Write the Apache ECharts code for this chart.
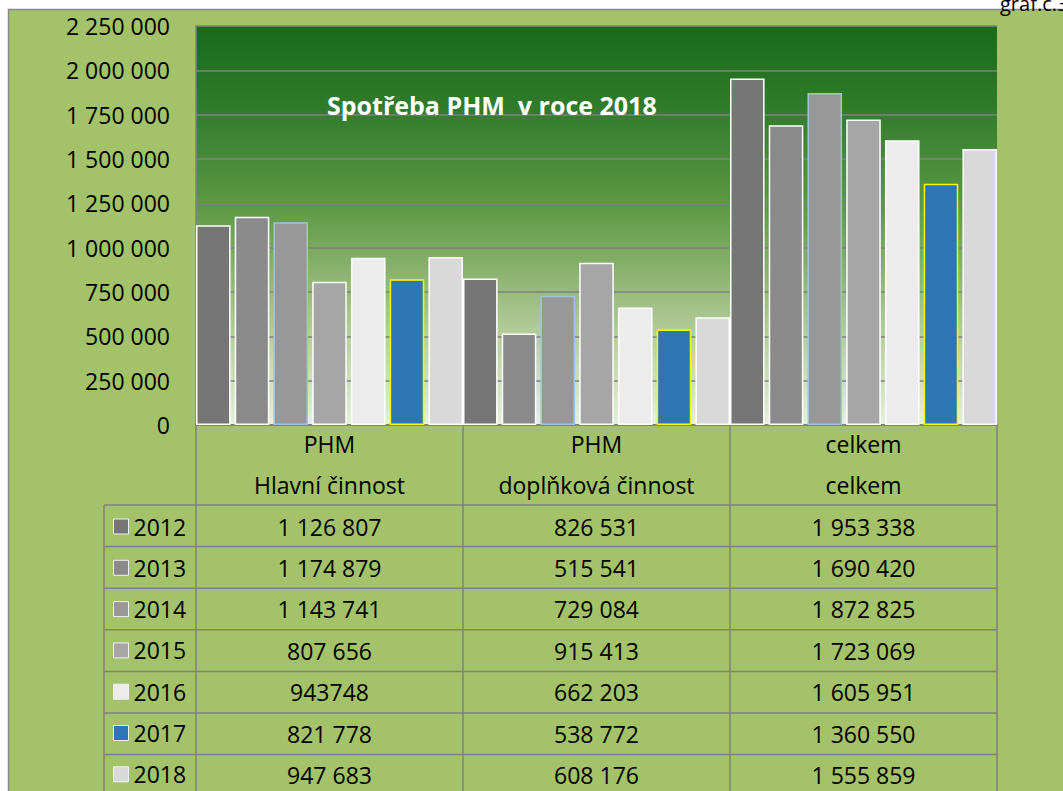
<!DOCTYPE html>
<html>
<head>
<meta charset="utf-8">
<script src="https://cdn.jsdelivr.net/npm/echarts@6/dist/echarts.min.js"></script>
<style>
  html, body { margin: 0; padding: 0; background: #ffffff; }
  #chart { width: 1063px; height: 791px; }
</style>
</head>
<body>
<div id="chart"></div>
<script>
// data
const years = ["2012", "2013", "2014", "2015", "2016", "2017", "2018"];
const categoryHeaders = [
  ["PHM", "Hlavní činnost"],
  ["PHM", "doplňková činnost"],
  ["celkem", "celkem"],
];
const hlavni = [1126807, 1174879, 1143741, 807656, 943748, 821778, 947683];
const doplnkova = [826531, 515541, 729084, 915413, 662203, 538772, 608176];
const celkem = [1953338, 1690420, 1872825, 1723069, 1605951, 1360550, 1555859];
// the 2016 cell of the first column is written without a separator in the source table
const plainCells = ["2016|0"];

const barColors = ["#767676", "#8a8a8a", "#989898", "#a6a6a6", "#ececec", "#2e75b6", "#d9d9d9"];
const barBorders = ["#ffffff", "#ffffff", "#9dc3e6", "#ffffff", "#ffffff", "#ffff00", "#ffffff"];

const FONT = "Open Sans";
const rowH = 41.6;
const tableTop = 505;
const gridLine = "#808080";

const fmt = (n) => String(n).replace(/\B(?=(\d{3})+(?!\d))/g, " ");
const columns = [hlavni, doplnkova, celkem];

const chart = echarts.init(document.getElementById("chart"), null, { renderer: "svg" });

// table lines of the data table under the plot
const tableLines = [];
for (let k = 0; k < years.length; k++) {
  const y = tableTop + k * rowH;
  tableLines.push({
    type: "line",
    shape: { x1: 104, y1: y, x2: 997, y2: y },
    style: { stroke: gridLine, lineWidth: 1.5 },
  });
}
tableLines.push({
  type: "line",
  shape: { x1: 104, y1: tableTop, x2: 104, y2: 800 },
  style: { stroke: gridLine, lineWidth: 1.5 },
});

chart.setOption({
  animation: false,
  textStyle: { fontFamily: FONT },
  title: [
    {
      text: "Spotřeba PHM  v roce 2018",
      left: 322,
      top: 87,
      textStyle: { color: "#ffffff", fontWeight: "bold", fontSize: 25, fontFamily: FONT },
    },
    {
      text: "graf.č.3",
      left: 995,
      top: -12,
      textStyle: { color: "#000000", fontWeight: "normal", fontSize: 20, fontFamily: FONT },
    },
  ],
  graphic: [
    {
      type: "rect",
      z: -100,
      shape: { x: 8.5, y: 9.5, width: 1100, height: 900 },
      style: { fill: "#a3c269", stroke: "#8c8c8c", lineWidth: 1.5 },
    },
    ...tableLines,
  ],
  legend: {
    data: years,
    orient: "vertical",
    left: 113,
    top: 515,
    height: 400,
    padding: 0,
    icon: "rect",
    itemWidth: 15,
    itemHeight: 15,
    itemGap: 18.3,
    itemStyle: { borderColor: "#f2f2f2", borderWidth: 1 },
    textStyle: { fontSize: 23, color: "#000000", fontFamily: FONT },
  },
  grid: {
    left: 196,
    right: 66,
    top: 26,
    bottom: 366,
    outerBoundsMode: "none",
    show: true,
    borderWidth: 0,
    backgroundColor: new echarts.graphic.LinearGradient(0, 0, 0, 1, [
      { offset: 0, color: "#196a19" },
      { offset: 0.2, color: "#2f7b2a" },
      { offset: 0.45, color: "#5d9845" },
      { offset: 0.6, color: "#86b06a" },
      { offset: 0.78, color: "#b6cf9c" },
      { offset: 1, color: "#e6efdc" },
    ]),
  },
  xAxis: {
    type: "category",
    data: categoryHeaders.map((h) => h.join("\n")),
    axisLine: { show: true, lineStyle: { color: gridLine, width: 2 } },
    axisTick: { show: true, length: 400, lineStyle: { color: gridLine, width: 1.5 } },
    axisLabel: {
      interval: 0,
      margin: -2,
      fontSize: 23,
      lineHeight: 41.4,
      color: "#000000",
      fontFamily: FONT,
      formatter: (value, idx) =>
        value +
        "\n" +
        years
          .map((y, i) => (plainCells.includes(y + "|" + idx) ? String(columns[idx][i]) : fmt(columns[idx][i])))
          .join("\n"),
    },
  },
  yAxis: {
    type: "value",
    min: 0,
    max: 2250000,
    interval: 250000,
    axisLine: { show: true, lineStyle: { color: gridLine, width: 1.5 } },
    axisTick: { show: false },
    axisLabel: { fontSize: 23, color: "#000000", margin: 26, fontFamily: FONT, formatter: (v) => fmt(v) },
    splitLine: { show: true, lineStyle: { color: gridLine, width: 1.5 } },
  },
  series: years.map((y, i) => ({
    name: y,
    type: "bar",
    barCategoryGap: "0%",
    barGap: "12%",
    data: [hlavni[i], doplnkova[i], celkem[i]],
    itemStyle: { color: barColors[i], borderColor: barBorders[i], borderWidth: 1.5 },
  })),
});
</script>
</body>
</html>
